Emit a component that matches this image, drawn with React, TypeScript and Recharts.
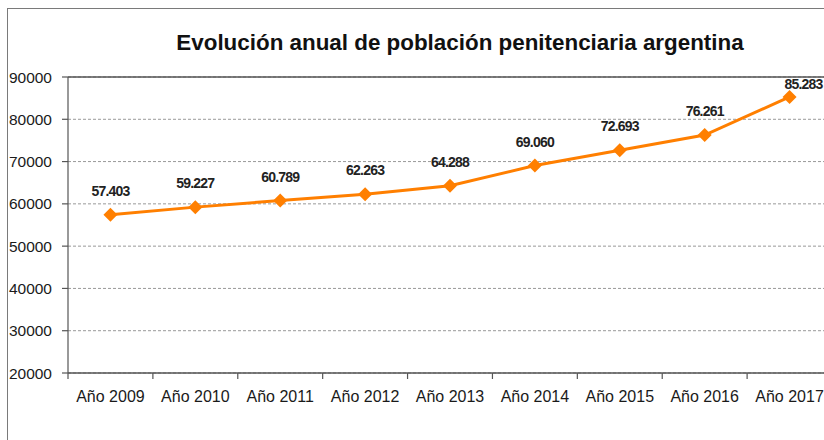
import React from "react";
import {
  LineChart,
  Line,
  XAxis,
  YAxis,
  CartesianGrid,
  ReferenceLine,
  LabelList,
} from "recharts";

const years = [
  "Año 2009",
  "Año 2010",
  "Año 2011",
  "Año 2012",
  "Año 2013",
  "Año 2014",
  "Año 2015",
  "Año 2016",
  "Año 2017",
];
const population = [57403, 59227, 60789, 62263, 64288, 69060, 72693, 76261, 85283];
const yTicks = [20000, 30000, 40000, 50000, 60000, 70000, 80000, 90000];

const data = years.map((year, i) => ({ year, value: population[i] }));

const CHART_W = 900;
const CHART_H = 440;
const PLOT_LEFT = 68;
const PLOT_RIGHT = 832;
const BAND = (PLOT_RIGHT - PLOT_LEFT) / years.length;
const FONT = "'Liberation Sans', Arial, sans-serif";
const ORANGE = "#FF7F00";

const fmt = (v: number) => String(v).replace(/\B(?=(\d{3})+(?!\d))/g, ".");

// diamond marker like the Excel one
const Diamond = (props: any) => {
  const { cx, cy } = props;
  if (cx == null || cy == null) return null;
  const r = 7;
  return (
    <polygon
      points={`${cx},${cy - r} ${cx + r},${cy} ${cx},${cy + r} ${cx - r},${cy}`}
      fill={ORANGE}
    />
  );
};

// category label with the tick mark at the left band edge
const XTick = (props: any) => {
  const { x, y, payload } = props;
  const edge = x - BAND / 2;
  return (
    <g>
      <line x1={edge} y1={y} x2={edge} y2={y + 6} stroke="#555" strokeWidth={1.2} />
      <text
        x={x}
        y={y + 28.7}
        textAnchor="middle"
        fill="#1a1a1a"
        fontSize={16}
        fontFamily={FONT}
      >
        {payload.value}
      </text>
    </g>
  );
};

const renderLabel = (props: any) => {
  const { x, y, value, index } = props;
  const last = index === population.length - 1;
  return (
    <text
      x={x + (last ? 14 : 0)}
      y={y - (last ? 8 : 19)}
      textAnchor="middle"
      fill="#222"
      fontSize={14}
      fontWeight="bold"
      letterSpacing={-0.8}
      fontFamily={FONT}
    >
      {fmt(value)}
    </text>
  );
};

export default function App() {
  return (
    <div
      style={{
        position: "fixed",
        left: 0,
        top: 0,
        width: 824,
        height: 440,
        overflow: "hidden",
        background: "#fff",
      }}
    >
      <div
        style={{
          position: "absolute",
          left: 7,
          top: 8,
          width: 900,
          height: 500,
          border: "1.5px solid #7a7a7a",
        }}
      />
      <div
        style={{
          position: "absolute",
          left: 110,
          top: 32,
          width: 700,
          textAlign: "center",
          fontFamily: FONT,
          fontWeight: "bold",
          fontSize: 22.4,
          lineHeight: "22.4px",
          color: "#111",
        }}
      >
        Evolución anual de población penitenciaria argentina
      </div>
      <div style={{ position: "absolute", left: 0, top: 0 }}>
        <LineChart
          width={CHART_W}
          height={CHART_H}
          data={data}
          margin={{ top: 77, right: CHART_W - PLOT_RIGHT, bottom: 37, left: 0 }}
        >
          <CartesianGrid
            vertical={false}
            stroke="#999"
            strokeDasharray="3 2"
          />
          <XAxis
            dataKey="year"
            height={30}
            interval={0}
            padding={{ left: BAND / 2, right: BAND / 2 }}
            tickLine={false}
            tickSize={0}
            tickMargin={0}
            axisLine={{ stroke: "#555", strokeWidth: 1.3 }}
            tick={<XTick />}
          />
          <YAxis
            width={PLOT_LEFT}
            domain={[20000, 90000]}
            ticks={yTicks}
            interval={0}
            tickSize={6}
            tickMargin={10}
            axisLine={{ stroke: "#555", strokeWidth: 1.2 }}
            tickLine={{ stroke: "#555", strokeWidth: 1.2 }}
            tick={{ fill: "#1a1a1a", fontSize: 15.5, fontFamily: FONT }}
          />
          <ReferenceLine y={90000} stroke="#555" strokeWidth={1.3} />
          <Line
            type="linear"
            dataKey="value"
            stroke={ORANGE}
            strokeWidth={3}
            dot={<Diamond />}
            activeDot={false}
            isAnimationActive={false}
          >
            <LabelList dataKey="value" content={renderLabel} />
          </Line>
        </LineChart>
      </div>
    </div>
  );
}
